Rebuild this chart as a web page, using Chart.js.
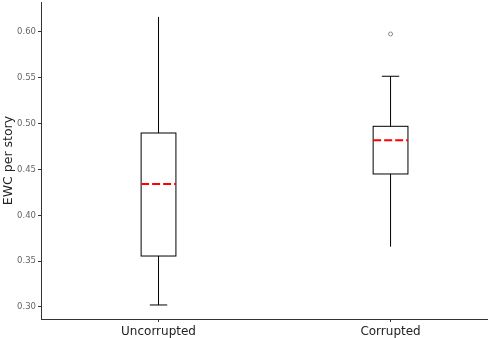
<!DOCTYPE html>
<html>
<head>
<meta charset="utf-8">
<script src="https://cdn.jsdelivr.net/npm/chart.js@4"></script>
<style>
  html, body { margin: 0; padding: 0; background: #fff; }
  #wrap { width: 488px; height: 338px; }
</style>
</head>
<body>
<div id="wrap"><canvas id="boxChart" width="488" height="338"></canvas></div>
<script>
// box plot data
const categories = ['Uncorrupted', 'Corrupted'];
const positions = [1, 2];
const whiskerLow = [0.3022, 0.3658];
const q1 = [0.3556, 0.4451];
const medians = [0.4342, 0.4818];
const q3 = [0.4898, 0.4971];
const whiskerHigh = [0.6164, 0.5517];
const outliers = [{ x: 2, y: 0.5978 }];
const yTicks = [0.30, 0.35, 0.40, 0.45, 0.50, 0.55, 0.60];

// caps that are visible in the reference
const showCapHigh = [false, true];
const showCapLow = [true, false];
const boxWidth = 0.15;

const boxPlugin = {
    id: 'boxes',
    afterDatasetsDraw(chart) {
        const ctx = chart.ctx;
        const xs = chart.scales.x;
        const ys = chart.scales.y;
        ctx.save();
        positions.forEach((p, i) => {
            const cx = xs.getPixelForValue(p);
            const left = xs.getPixelForValue(p - boxWidth / 2);
            const right = xs.getPixelForValue(p + boxWidth / 2);
            const capL = xs.getPixelForValue(p - boxWidth / 4);
            const capR = xs.getPixelForValue(p + boxWidth / 4);
            const yQ1 = ys.getPixelForValue(q1[i]);
            const yQ3 = ys.getPixelForValue(q3[i]);
            const yLo = ys.getPixelForValue(whiskerLow[i]);
            const yHi = ys.getPixelForValue(whiskerHigh[i]);
            const yMed = ys.getPixelForValue(medians[i]);

            ctx.strokeStyle = '#000';
            ctx.lineWidth = 1;
            ctx.setLineDash([]);
            ctx.strokeRect(left, yQ3, right - left, yQ1 - yQ3);

            ctx.beginPath();
            ctx.moveTo(cx, yQ3);
            ctx.lineTo(cx, yHi);
            ctx.moveTo(cx, yQ1);
            ctx.lineTo(cx, yLo);
            if (showCapHigh[i]) {
                ctx.moveTo(capL, yHi);
                ctx.lineTo(capR, yHi);
            }
            if (showCapLow[i]) {
                ctx.moveTo(capL, yLo);
                ctx.lineTo(capR, yLo);
            }
            ctx.stroke();

            // median, red dashed
            ctx.strokeStyle = '#ff0000';
            ctx.lineWidth = 2;
            ctx.setLineDash([8, 3]);
            ctx.beginPath();
            ctx.moveTo(left, yMed);
            ctx.lineTo(right, yMed);
            ctx.stroke();
        });
        ctx.restore();
    }
};

const ctx = document.getElementById('boxChart').getContext('2d');
const boxChart = new Chart(ctx, {
    type: 'scatter',
    data: {
        datasets: [
            {
                label: 'outliers',
                data: outliers,
                pointStyle: 'circle',
                pointRadius: 2,
                borderColor: '#888',
                borderWidth: 1,
                backgroundColor: 'rgba(0,0,0,0)',
            },
        ],
    },
    options: {
        responsive: false,
        animation: false,
        devicePixelRatio: 1,
        layout: { autoPadding: false, padding: { top: 2, right: 0, left: 0, bottom: 0 } },
        plugins: {
            legend: { display: false },
            tooltip: { enabled: false },
        },
        scales: {
            x: {
                type: 'linear',
                min: 0.4935,
                max: 2.42,
                afterFit: (scale) => {
                    scale.height = 19;
                    scale.paddingLeft = 0;
                    scale.paddingRight = 0;
                },
                afterBuildTicks: (scale) => {
                    scale.ticks = positions.map(v => ({ value: v }));
                },
                grid: { drawOnChartArea: false, drawTicks: true, tickLength: 3, tickColor: '#333' },
                border: { display: true, color: '#333', width: 1 },
                ticks: {
                    autoSkip: false,
                    maxRotation: 0,
                    padding: 3,
                    color: '#222',
                    font: { family: 'DejaVu Sans', size: 12 },
                    callback: (v) => categories[positions.indexOf(v)],
                },
            },
            y: {
                min: 0.2869,
                max: 0.6327,
                afterFit: (scale) => {
                    scale.width = 41;
                    scale.paddingTop = 0;
                    scale.paddingBottom = 0;
                },
                afterBuildTicks: (scale) => {
                    scale.ticks = yTicks.map(v => ({ value: v }));
                },
                grid: { drawOnChartArea: false, drawTicks: true, tickLength: 3, tickColor: '#333' },
                border: { display: true, color: '#333', width: 1 },
                title: {
                    display: true,
                    text: 'EWC per story',
                    color: '#222',
                    padding: { top: 1, bottom: 4 },
                    font: { family: 'DejaVu Sans', size: 12.5 },
                },
                ticks: {
                    padding: 2,
                    color: '#666',
                    font: { family: 'DejaVu Sans', size: 8.5 },
                    callback: (v) => v.toFixed(2),
                },
            },
        },
    },
    plugins: [boxPlugin],
});
</script>
</body>
</html>
